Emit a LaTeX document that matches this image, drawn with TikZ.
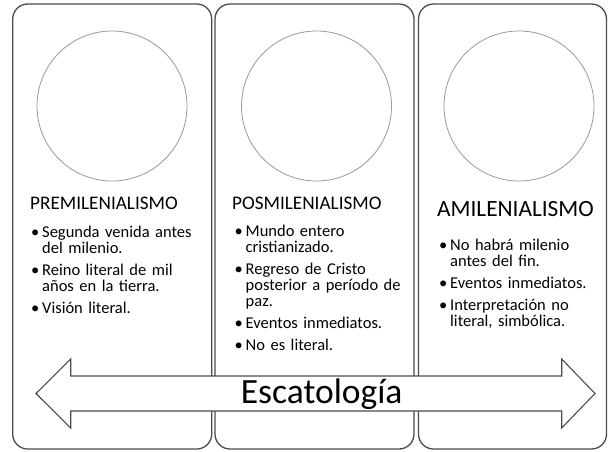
\documentclass[tikz,border=0pt]{standalone}
\usepackage{fontspec}
\setmainfont{Carlito}
\newcommand{\itm}[1]{\hangindent=11pt\hangafter=1\noindent\hbox to 11pt{\textbullet\hfil}#1\par}
\newcommand{\nl}{\hfil\break}
\tikzset{
	panel/.style={draw=black!70, line width=1.3pt, rounded corners=15pt, minimum height=445pt, inner sep=0pt},
	disc/.style={circle, draw=black!40, line width=0.8pt, minimum size=150pt, inner sep=0pt},
	title/.style={anchor=base west, inner sep=0pt, font=\fontsize{19.2}{23}\selectfont},
	points/.style={anchor=base west, inner sep=0pt, text width=180pt, font={\fontsize{16.5}{16}\selectfont\parskip=6pt\relax}},
	bigarrow/.style={draw=black!70, line width=1.1pt, fill=white},
}
\begin{document}
\begin{tikzpicture}[x=1pt,y=-1pt]
		\useasboundingbox (0,0) rectangle (612,451);
		\node[panel, minimum width=199pt] (pre) at (112.2,226.5) {};
		\node[panel, minimum width=199pt] (pos) at (314.5,226.5) {};
		\node[panel, minimum width=188pt] (ami) at (512.5,226.5) {};
		\node[disc] (preC) at (112,106) {};
		\node[disc] (posC) at (316.5,106) {};
		\node[disc] (amiC) at (519,106) {};
		\node[title] (preT) at (30,209.3) {PREMILENIALISMO};
		\node[title] (posT) at (232,209) {POSMILENIALISMO};
		\node[title, font=\fontsize{23.3}{27}\selectfont] (amiT) at (437,216.7) {AMILENIALISMO};
		\node[points] (preL) at (31,237.7) {\itm{Segunda venida antes\nl del milenio.}\itm{Reino literal de mil\nl años en la tierra.}\itm{Visión literal.}};
		\node[points] (posL) at (234.5,236.7) {\itm{Mundo entero\nl cristianizado.}\itm{Regreso de Cristo\nl posterior a período de\nl paz.}\itm{Eventos inmediatos.}\itm{No es literal.}};
		\node[points] (amiL) at (439,250.7) {\itm{No habrá milenio\nl antes del fin.}\itm{Eventos inmediatos.}\itm{Interpretación no\nl literal, simbólica.}};
		\draw[bigarrow] (36,393.5) -- (70.7,359) -- (70.7,376) -- (561.7,376) -- (561.7,359) -- (595,393.5) -- (561.7,428) -- (561.7,411) -- (70.7,411) -- (70.7,428) -- cycle;
		\node[anchor=base, inner sep=0pt, font=\fontsize{35.5}{40}\selectfont] (esc) at (321.7,403.3) {Escatología};
\end{tikzpicture}
\end{document}
